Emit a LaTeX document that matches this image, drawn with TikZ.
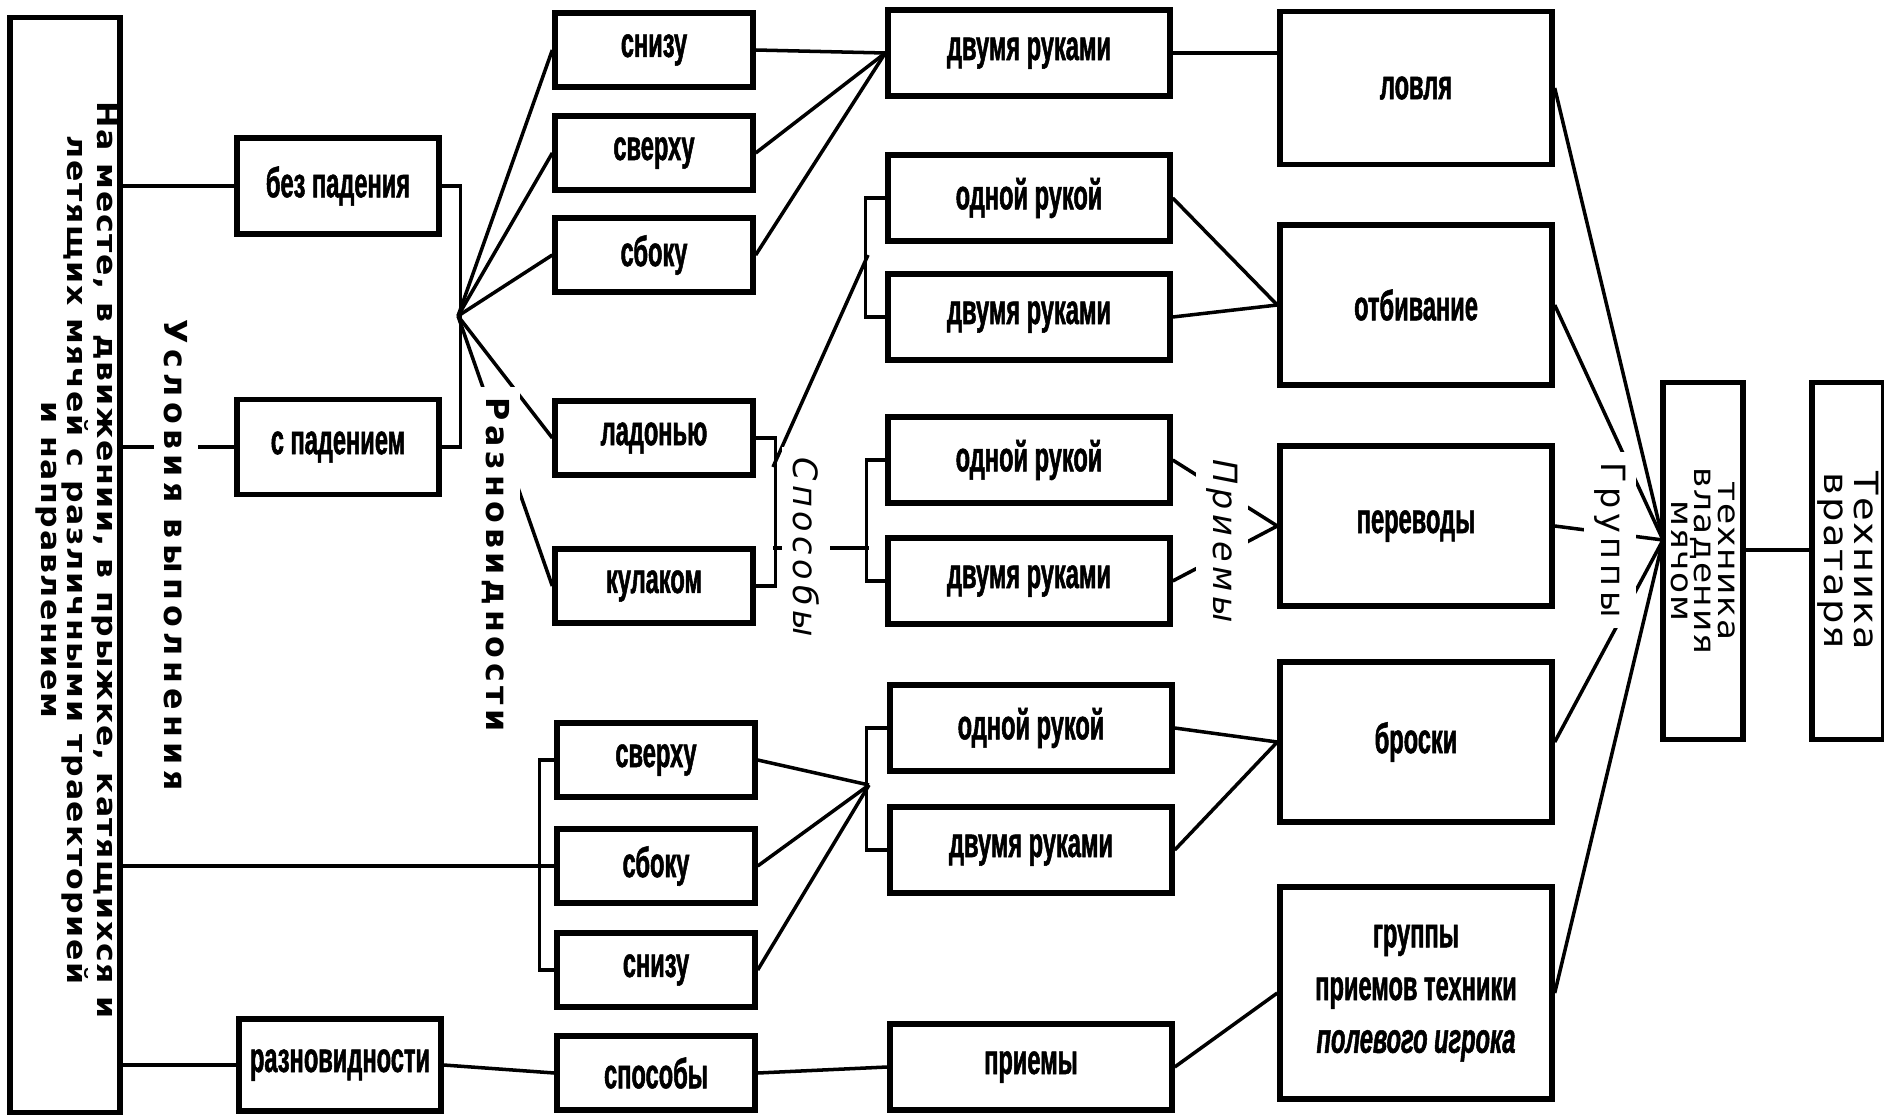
\documentclass[tikz,border=0pt]{standalone}
\usepackage{fontspec}
\setmainfont{DejaVu Sans}
\newfontfamily\boxfont[FakeStretch=0.56, BoldFeatures={FakeBold=1.2}, BoldItalicFeatures={FakeBold=1.2}]{Liberation Sans}
\newfontfamily\rotfont{DejaVu Sans}
\newfontfamily\widefont[FakeStretch=1.15]{DejaVu Sans}

\begin{document}
\begin{tikzpicture}[
        x=0.01cm, y=-0.01cm,
        box/.style={draw, line width=1.5pt, inner sep=0pt, align=center,
          font=\boxfont\bfseries\fontsize{12}{15}\selectfont},
        sbox/.style={box, minimum width=1.98cm, minimum height=0.74cm},
        mbox/.style={box, minimum width=2.82cm, minimum height=0.86cm},
        bbox/.style={box, minimum width=2.72cm, minimum height=1.6cm},
        vbox/.style={draw, line width=1.5pt, inner sep=0pt, align=center, rotate=-90},
        lbl/.style={fill=white, rotate=-90, inner sep=3pt,
          font=\rotfont\fontsize{9}{9}\selectfont},
        line/.style={line width=1pt}
      ]
        \useasboundingbox (0,0) rectangle (1884,1118);

        \node[vbox, minimum width=10.94cm, minimum height=1.1cm] (big) at (65,565) {};
        \node[rotate=-90, align=center, inner sep=0pt,
          font=\widefont\bfseries\fontsize{7.8}{7.3}\selectfont\addfontfeature{LetterSpace=6}] (bigtxt) at (77,560)
          {На месте, в движении, в прыжке, катящихся и\\летящих мячей с различными траекторией\\и направлением};

        \node[box, minimum width=2.02cm, minimum height=0.96cm] (nofall) at (338,186) {без падения};
        \node[box, minimum width=2.02cm, minimum height=0.95cm] (fall) at (338,447) {с падением};
        \node[box, minimum width=2.02cm, minimum height=0.92cm] (kinds) at (340,1065) {разновидности};

        \node[sbox] (snizuA)  at (654,50)   {снизу};
        \node[sbox] (sverhuA) at (654,153)  {сверху};
        \node[sbox] (sbokuA)  at (654,255)  {сбоку};
        \node[sbox] (palm)    at (654,438)  {ладонью};
        \node[sbox] (fist)    at (654,586)  {кулаком};
        \node[sbox] (sverhuB) at (656,760)  {сверху};
        \node[sbox] (sbokuB)  at (656,866)  {сбоку};
        \node[sbox] (snizuB)  at (656,970)  {снизу};
        \node[sbox] (ways)    at (656,1073) {способы};

        \node[mbox] (twoA)  at (1029,53)   {двумя руками};
        \node[mbox] (oneA)  at (1029,198)  {одной рукой};
        \node[mbox] (twoB)  at (1029,317)  {двумя руками};
        \node[mbox] (oneB)  at (1029,460)  {одной рукой};
        \node[mbox] (twoC)  at (1029,581)  {двумя руками};
        \node[mbox] (oneC)  at (1031,728)  {одной рукой};
        \node[mbox] (twoD)  at (1031,850)  {двумя руками};
        \node[mbox] (moves) at (1031,1067) {приемы};

        \node[bbox, minimum height=1.53cm] (catch) at (1416,88)  {ловля};
        \node[bbox] (beat)  at (1416,305) {отбивание};
        \node[bbox] (pass)  at (1416,526) {переводы};
        \node[bbox] (throw) at (1416,742) {броски};
        \node[bbox, minimum height=2.12cm] (groups) at (1416,993)
          {группы\\приемов техники\\{\itshape полевого игрока}};

        \node[vbox, minimum width=3.57cm, minimum height=0.8cm,
          font=\widefont\fontsize{8.5}{6.6}\selectfont\addfontfeature{LetterSpace=6}] (tvm) at (1703,561)
          {техника\\владения\\мячом};
        \node[vbox, minimum width=3.57cm, minimum height=0.72cm,
          font=\widefont\fontsize{9.5}{8.6}\selectfont\addfontfeature{LetterSpace=6}] (keeper) at (1848,561)
          {Техника\\вратаря};

        \coordinate (fanA) at (458,316);
        \coordinate (palmUp) at (773,467);
        \coordinate (oneIn) at (868,255);
        \coordinate (waysL) at (773,548);
        \coordinate (waysR) at (869,548);
        \coordinate (lowJ) at (869,785);
        \coordinate (fanB) at (1663,540);

        \draw[line] (big.north |- nofall.west) -- (nofall.west);
        \draw[line] (big.north |- fall.west) -- (fall.west);
        \draw[line] (big.north |- sbokuB.west) -- (sbokuB.west);
        \draw[line] (big.north |- kinds.west) -- (kinds.west);
        \draw[line] (kinds.east) -- (ways.west);
        \draw[line] (ways.east) -- (moves.west);
        \draw[line] (moves.east) -- (groups.west);

        \draw[line] (nofall.east) -- ++(19,0) |- (fall.east);
        \draw[line] (fanA) -- (snizuA.west);
        \draw[line] (fanA) -- (sverhuA.west);
        \draw[line] (fanA) -- (sbokuA.west);
        \draw[line] (fanA) -- (palm.west);
        \draw[line] (fanA) -- (fist.west);

        \draw[line] (snizuA.east) -- (twoA.west);
        \draw[line] (sverhuA.east) -- (twoA.west);
        \draw[line] (sbokuA.east) -- (twoA.west);

        \draw[line] (palm.east) -- ++(20,0) |- (fist.east);
        \draw[line] (palmUp) -- (oneIn);
        \draw[line] (waysL) -- (waysR);
        \draw[line] (oneA.west) -- ++(-20,0) |- (twoB.west);
        \draw[line] (oneB.west) -- ++(-19,0) |- (twoC.west);
        \draw[line] (oneC.west) -- ++(-21,0) |- (twoD.west);

        \draw[line] (sverhuB.west) -- ++(-15,0) |- (snizuB.west);
        \draw[line] (sverhuB.east) -- (lowJ);
        \draw[line] (sbokuB.east) -- (lowJ);
        \draw[line] (snizuB.east) -- (lowJ);

        \draw[line] (twoA.east) -- (twoA.east -| catch.west);
        \draw[line] (oneA.east) -- (beat.west);
        \draw[line] (twoB.east) -- (beat.west);
        \draw[line] (oneB.east) -- (pass.west);
        \draw[line] (twoC.east) -- (pass.west);
        \draw[line] (oneC.east) -- (throw.west);
        \draw[line] (twoD.east) -- (throw.west);

        \draw[line] (catch.east) -- (fanB);
        \draw[line] (beat.east) -- (fanB);
        \draw[line] (pass.east) -- (fanB);
        \draw[line] (throw.east) -- (fanB);
        \draw[line] (groups.east) -- (fanB);
        \draw[line] ([yshift=0.11cm]tvm.north) -- ([yshift=0.11cm]keeper.south);

        \node[lbl, font=\rotfont\bfseries\fontsize{9}{9}\selectfont\addfontfeature{LetterSpace=17}] (cond) at (176,555) {Условия выполнения};
        \node[lbl, font=\rotfont\bfseries\fontsize{9}{9}\selectfont\addfontfeature{LetterSpace=15}] (razn) at (496,565) {Разновидности};
        \node[lbl, font=\rotfont\itshape\fontsize{9.5}{9}\selectfont\addfontfeature{LetterSpace=14}] (spos) at (806,547) {Способы};
        \node[lbl, font=\rotfont\itshape\fontsize{9.5}{9}\selectfont\addfontfeature{LetterSpace=14}] (prie) at (1222,541) {Приемы};
        \node[lbl, font=\rotfont\fontsize{9.5}{9}\selectfont\addfontfeature{LetterSpace=14}] (grp) at (1610,540) {Группы};
      \end{tikzpicture}
\end{document}
